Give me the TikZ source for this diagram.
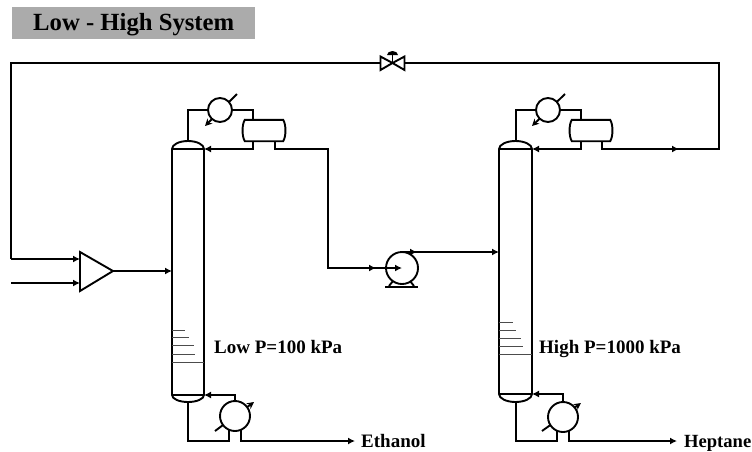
\documentclass[tikz,border=0pt]{standalone}
\usepackage{fontspec}
\setmainfont{Liberation Serif}
\usetikzlibrary{arrows.meta,calc}
\tikzset{
  x=1pt,y=-1pt,
  line/.style={line width=1.9pt,line join=miter},
  arr/.style={line,-{Latex[length=7pt,width=7pt]}},
  hx/.style={draw,line width=1.9pt,circle,minimum size=24pt,inner sep=0pt,fill=white},
  reb/.style={draw,line width=1.9pt,circle,minimum size=30pt,inner sep=0pt,fill=white},
  pumpc/.style={draw,line width=1.9pt,circle,minimum size=32pt,inner sep=0pt},
  tray/.style={line width=0.8pt,draw=black!70},
  lbl/.style={font=\bfseries\fontsize{19}{22}\selectfont,inner sep=0pt,anchor=base west},
  diag/.style={line width=1.9pt,-{Stealth[length=7pt,width=7pt]}},
}
\begin{document}
\begin{tikzpicture}
\useasboundingbox (0,0) rectangle (752,451);
\node[fill=black!33,minimum width=243pt,minimum height=32pt,inner sep=0pt,anchor=north west] (title) at (12,7) {};
\node[font=\bfseries\fontsize{24.7}{28}\selectfont,inner sep=0pt,anchor=base west] (titletext) at (33,30) {Low - High System};

% named points
\coordinate (a1top) at (188,141); \coordinate (a1bot) at (188,401);
\coordinate (a1in) at (204,149); \coordinate (a1feed) at (172,271);
\coordinate (a1rin) at (204,395);
\coordinate (b1top) at (516,141); \coordinate (b1bot) at (516,402);
\coordinate (b1in) at (532,149); \coordinate (b1feed) at (499,252);
\coordinate (b1rin) at (532,394);

% columns
\draw[line] (172,149) arc[start angle=180,end angle=360,x radius=16,y radius=8] -- (204,395)
  arc[start angle=0,end angle=180,x radius=16,y radius=7] -- cycle;
\draw[line,line width=1.3pt] (172,149) -- (204,149) (172,395) -- (204,395);
\draw[line] (499,149) arc[start angle=180,end angle=360,x radius=16.5,y radius=8] -- (532,394)
  arc[start angle=0,end angle=180,x radius=16.5,y radius=8] -- cycle;
\draw[line,line width=1.3pt] (499,149) -- (532,149) (499,394) -- (532,394);

% trays
\draw[tray] (172,330) -- (185,330) (172,337) -- (189,337) (172,345) -- (194,345) (172,354) -- (195,354) (172,362) -- (204,362);
\draw[tray] (499,322) -- (513,322) (499,330) -- (516,330) (499,338) -- (521,338) (499,346) -- (523,346) (499,354) -- (532,354);

% diagonals of the exchangers lie under the white circles
\coordinate (cd1a) at (237,94); \coordinate (cd1b) at (205,126);
\coordinate (cd2a) at (565,94); \coordinate (cd2b) at (532,126);
\draw[diag] (cd1a) -- (cd1b);
\draw[diag] (cd2a) -- (cd2b);
\coordinate (rd1a) at (215,431); \coordinate (rd1b) at (254,402);
\coordinate (rd2a) at (542,431); \coordinate (rd2b) at (581,403);
\draw[diag] (rd1a) -- (rd1b);
\draw[diag] (rd2a) -- (rd2b);

% condensers, reboilers, pump
\node[hx] (c1) at (220,110) {};
\node[hx] (c2) at (548,110) {};
\node[reb] (r1) at (235,416) {};
\node[reb] (r2) at (563,417) {};
\node[pumpc] (p) at (402,268) {};

% drums
\node[inner sep=0pt,minimum width=44pt,minimum height=21pt] (d1) at (264,130.5) {};
\node[inner sep=0pt,minimum width=44pt,minimum height=21pt] (d2) at (591,130.5) {};
\foreach \d in {d1,d2}{
  \draw[line] ($(\d.north west)+(3,0)$) -- ($(\d.north east)+(-3,0)$) .. controls ($(\d.east)+(0,-6)$) and ($(\d.east)+(0,6)$) .. ($(\d.south east)+(-3,0)$)
   -- ($(\d.south west)+(3,0)$) .. controls ($(\d.west)+(0,6)$) and ($(\d.west)+(0,-6)$) .. ($(\d.north west)+(3,0)$) -- cycle;
}

% top loops
\draw[line] (a1top) |- (c1.west);
\draw[line] (c1.east) -| (253,120);
\draw[arr] (253,141) |- (a1in);
\draw[line] (b1top) |- (c2.west);
\draw[line] (c2.east) -| (581,120);
\draw[arr] (581,141) |- (b1in);

% reboiler loops
\draw[line] (a1bot) |- (229,441) -- (229,430);
\draw[arr] (r1.north) |- (a1rin);
\draw[line] (b1bot) |- (557,441) -- (557,431);
\draw[arr] (r2.north) |- (b1rin);
\coordinate (eth) at (355,441); \coordinate (hep) at (677,441);
\draw[arr] (241,430) |- (eth);
\draw[arr] (569,431) |- (hep);

% drum 1 -> pump
\draw[arr] (275,141) |- (328,149) -- (328,268) -- (p.center);
\coordinate (pin) at (376,268);
\draw[arr] (328,268) -- (pin);
% pump -> column 2
\coordinate (pstart) at (p.center |- b1feed);
\draw[arr] (pstart) -- (b1feed);
\coordinate (pout) at (417,252);
\draw[arr] (pstart) -- (pout);
% pump base
\draw[line] (385,287) -- (418,287);
\draw[line] (389,286) -- (393,281) (414,286) -- (410,281);

% recycle
\coordinate (rtop) at (719,63);
\coordinate (rleft) at (11,63);
\coordinate (f1) at (11,259); \coordinate (f2) at (11,283);
\coordinate (rmid) at (679,149);
\draw[line] (602,141) |- (719,149) -- (rtop) -- (rleft) -- (f1);
\draw[arr] (602,149) -- (rmid);
\draw[arr] (f1) -- (80,259);
\draw[arr] (f2) -- (80,283);

% mixer
\draw[line] (80,252) -- (113,271) -- (80,291) -- cycle;
\coordinate (mout) at (113,271);
\draw[arr] (mout) -- (a1feed);

% valve
\coordinate (v) at (392.5,63);
\draw[line,fill=white] (v) -- (380.5,56.5) -- (380.5,70) -- cycle;
\draw[line,fill=white] (v) -- (404.5,56.5) -- (404.5,70) -- cycle;
\draw[line] (v) -- (392.5,54);
\fill (387,55) arc[start angle=180,end angle=360,x radius=5.5,y radius=4] -- cycle;

% labels
\node[lbl] (lowp) at (214,353) {Low P=100 kPa};
\node[lbl] (highp) at (539,353) {High P=1000 kPa};
\node[lbl] (ethanol) at (361,447) {Ethanol};
\node[lbl,font=\bfseries\fontsize{18.6}{22}\selectfont,anchor=base east] (heptane) at (751.5,447) {Heptane};
\end{tikzpicture}
\end{document}
